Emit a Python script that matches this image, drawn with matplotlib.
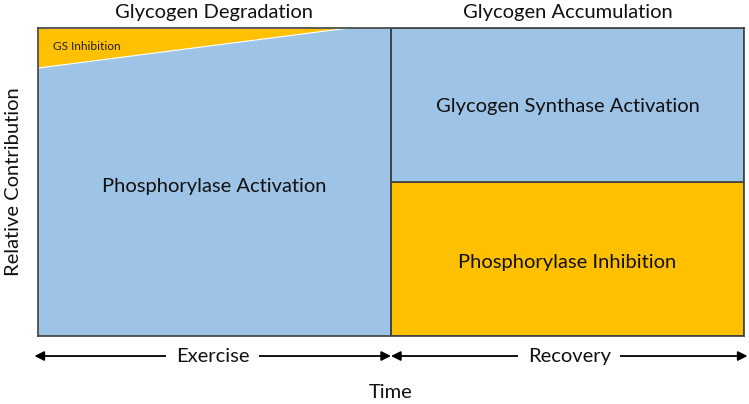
import numpy as np
import matplotlib.pyplot as plt
from matplotlib.patches import Polygon, Rectangle

plt.rcParams['font.family'] = ['Lato', 'DejaVu Sans']

# phase names and labels
phases = ['Exercise', 'Recovery']
titles = ['Glycogen Degradation', 'Glycogen Accumulation']

# exercise phase: GS inhibition share falls from start to ~0.88 of the phase
gs_x = [0.0, 0.88]
gs_share = [0.13, 0.0]

# recovery phase: constant split
rec_labels = ['Phosphorylase Inhibition', 'Glycogen Synthase Activation']
rec_share = [0.50, 0.50]

blue = '#9DC3E6'
orange = '#FFC000'
edge = '#404040'
fs = 14.5

fig = plt.figure(figsize=(7.49, 4.04), dpi=100)
ax = fig.add_axes([38/749, 68/404, 706/749, 308/404])
ax.set_xlim(0, 2)
ax.set_ylim(0, 1)
ax.set_xticks([])
ax.set_yticks([])
for s in ax.spines.values():
    s.set_color(edge)
    s.set_linewidth(1.2)

# exercise phase
ax.add_patch(Rectangle((0, 0), 1, 1, facecolor=blue, edgecolor='none'))
tri = [(gs_x[0], 1), (gs_x[0], 1 - gs_share[0]), (gs_x[1], 1 - gs_share[1])]
ax.add_patch(Polygon(tri, closed=True, facecolor=orange, edgecolor='white', linewidth=0.8))
ax.text(0.042, 0.94, 'GS Inhibition', fontsize=8.6, va='center', ha='left', color='#222222')
ax.text(0.5, 0.485, 'Phosphorylase Activation', fontsize=fs, ha='center', va='center', color='#111111')

# recovery phase
ax.add_patch(Rectangle((1, 0), 1, rec_share[0], facecolor=orange, edgecolor=edge, linewidth=1.2))
ax.add_patch(Rectangle((1, rec_share[0]), 1, rec_share[1], facecolor=blue, edgecolor=edge, linewidth=1.2))
ax.text(1.5, rec_share[0] / 2 - 0.01, rec_labels[0], fontsize=fs, ha='center', va='center', color='#111111')
ax.text(1.5, rec_share[0] + rec_share[1] / 2 - 0.005, rec_labels[1], fontsize=fs, ha='center', va='center', color='#111111')
ax.axvline(1, color=edge, linewidth=1.2)

# titles above each phase
for i, t in enumerate(titles):
    ax.text(i + 0.5, 1.05, t, fontsize=fs, ha='center', va='center', color='#111111', clip_on=False)

# time arrows
y_arr = -0.065
spans = [(-0.01, 1.0), (1.0, 2.01)]
for (x0, x1), name in zip(spans, phases):
    ax.annotate('', xy=(x0, y_arr), xytext=(x1, y_arr), annotation_clip=False,
                arrowprops=dict(arrowstyle='<|-|>', color='black', lw=1.3,
                                mutation_scale=14, shrinkA=0, shrinkB=0))
    ax.text((x0 + x1) / 2, y_arr, name, fontsize=fs, ha='center', va='center', color='#111111',
            bbox=dict(facecolor='white', edgecolor='none', pad=7), clip_on=False)

ax.text(1.0, -0.185, 'Time', fontsize=fs, ha='center', va='center', color='#111111', clip_on=False)
ax.text(-0.068, 0.5, 'Relative Contribution', fontsize=fs, ha='center', va='center',
        rotation=90, color='#111111', clip_on=False)

fig.savefig('out.png', dpi=100)
